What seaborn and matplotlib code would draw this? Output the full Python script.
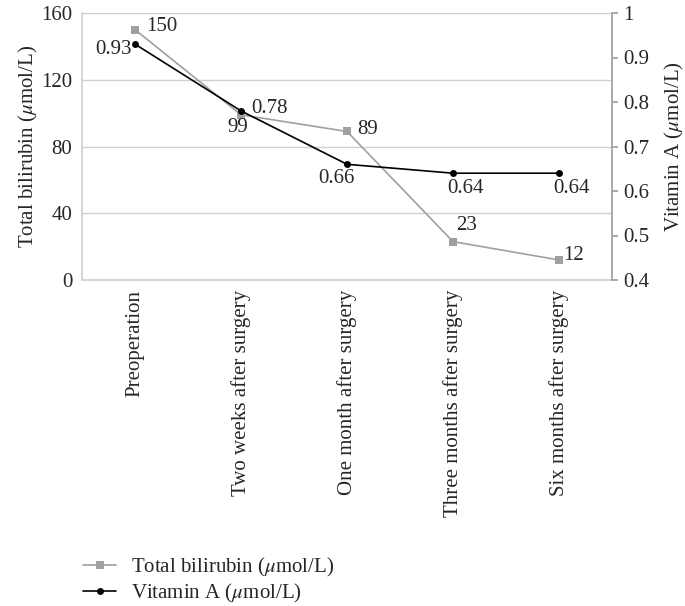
import matplotlib
matplotlib.use("Agg")
import matplotlib.pyplot as plt
import seaborn as sns
import pandas as pd
from matplotlib.lines import Line2D

categories = ["Preoperation", "Two weeks after surgery", "One month after surgery",
              "Three months after surgery", "Six months after surgery"]
bilirubin = [150, 99, 89, 23, 12]
vitamin_a = [0.93, 0.78, 0.66, 0.64, 0.64]
left_ticks = [0, 40, 80, 120, 160]
right_ticks = [0.4, 0.5, 0.6, 0.7, 0.8, 0.9, 1.0]
right_labels = ["0.4", "0.5", "0.6", "0.7", "0.8", "0.9", "1"]

sns.set_theme(style="white")
plt.rcParams["font.family"] = ["Liberation Serif", "DejaVu Serif"]
plt.rcParams["mathtext.fontset"] = "stix"

df = pd.DataFrame({"pos": range(len(categories)), "cat": categories,
                   "bil": bilirubin, "vit": vitamin_a})

fig = plt.figure(figsize=(6.85, 6.06), dpi=100)
ax = fig.add_axes([82/685, 1-280/606, (612-82)/685, (280-13)/606])
ax2 = ax.twinx()

grey = "#a0a0a0"
gridc = "#d0d0d0"
FS = 15
PX = 0.72  # points per pixel at dpi 100

sns.lineplot(data=df, x="pos", y="bil", ax=ax, color=grey, marker="s", markersize=6,
             markeredgewidth=0, linewidth=1.2, legend=False)
sns.lineplot(data=df, x="pos", y="vit", ax=ax2, color="black", marker="o", markersize=5,
             markeredgewidth=0, linewidth=1.2, legend=False)

ax.set_xlim(-0.5, len(categories) - 0.5)
ax.set_ylim(0, 160)
ax.set_yticks(left_ticks)
ax.set_yticklabels([str(t) for t in left_ticks], fontsize=FS)
ax.set_xticks(range(len(categories)))
ax.set_xticklabels(categories, rotation=90, fontsize=FS)
ax.tick_params(axis="x", length=0, pad=7)
ax.tick_params(axis="y", length=0, pad=7)
ax.set_xlabel("")
ax.set_ylabel(r"Total bilirubin ($\mu$mol/L)", fontsize=FS, labelpad=1)
for y in left_ticks[1:]:
    ax.axhline(y, color=gridc, linewidth=1, zorder=0)

ax2.set_ylim(0.4, 1.0)
ax2.set_yticks(right_ticks)
ax2.set_yticklabels(right_labels, fontsize=FS)
ax2.tick_params(axis="y", length=4, color=grey, pad=4, direction="out", right=True)
ax2.set_ylabel(r"Vitamin A ($\mu$mol/L)", fontsize=FS, labelpad=10)

for a in (ax, ax2):
    for s in a.spines.values():
        s.set_visible(False)
ax.spines["left"].set_visible(True)
ax.spines["left"].set_color(gridc)
ax.spines["bottom"].set_visible(True)
ax.spines["bottom"].set_color(gridc)
ax2.spines["right"].set_visible(True)
ax2.spines["right"].set_color(grey)

# offsets in pixels (dx, dy up), alignment
offs_b = [(11, 3, "left", "center"), (-3, -3, "center", "top"), (10, 2, "left", "center"),
          (3, 7, "left", "bottom"), (4, 4, "left", "center")]
for i, (v, (dx, dy, ha, va)) in enumerate(zip(bilirubin, offs_b)):
    ax.annotate(str(v), (i, v), xytext=(dx*PX, dy*PX), textcoords="offset points",
                ha=ha, va=va, fontsize=FS)
offs_v = [(-3, -5, "right", "center"), (10, 2, "left", "center"), (-11, -5, "center", "top"),
          (12, -6, "center", "top"), (12, -6, "center", "top")]
for i, (v, (dx, dy, ha, va)) in enumerate(zip(vitamin_a, offs_v)):
    ax2.annotate(f"{v:.2f}", (i, v), xytext=(dx*PX, dy*PX), textcoords="offset points",
                 ha=ha, va=va, fontsize=FS)

handles = [Line2D([], [], color=grey, marker="s", markersize=6, markeredgewidth=0, linewidth=1.2),
           Line2D([], [], color="black", marker="o", markersize=5, markeredgewidth=0, linewidth=1.2)]
fig.legend(handles, [r"Total bilirubin ($\mu$mol/L)", r"Vitamin A ($\mu$mol/L)"],
           loc="upper left", bbox_to_anchor=(83/685, 1-556/606), frameon=False,
           fontsize=FS, handlelength=1.6, labelspacing=0.15, borderpad=0,
           borderaxespad=0, handletextpad=0.7)

fig.savefig("out.png", dpi=100)
